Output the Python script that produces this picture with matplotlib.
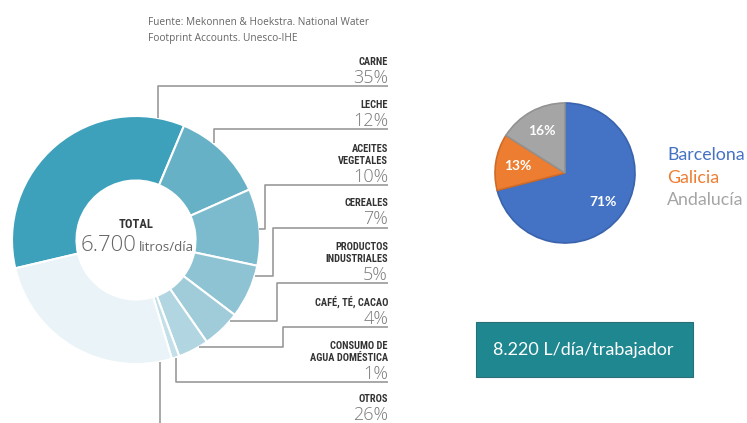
import numpy as np
import matplotlib
matplotlib.use('Agg')
import matplotlib.pyplot as plt
from matplotlib.patches import Rectangle

# Huella hídrica por categoría (%)
categorias = ['CARNE', 'LECHE', 'ACEITES\nVEGETALES', 'CEREALES',
              'PRODUCTOS\nINDUSTRIALES', 'CAFÉ, TÉ, CACAO',
              'CONSUMO DE\nAGUA DOMÉSTICA', 'OTROS']
porcentajes = [35, 12, 10, 7, 5, 4, 1, 26]
colores_donut = ['#3da1bc', '#67b1c7', '#7cbacd', '#8ec3d4', '#a0ccda',
                 '#b2d6e1', '#c3dfe8', '#eaf3f7']
total_texto = '6.700'
fuente = ['Fuente: Mekonnen & Hoekstra. National Water',
          'Footprint Accounts. Unesco-IHE']

# Reparto por región (%)
regiones = ['Barcelona', 'Galicia', 'Andalucía']
reparto = [71, 13, 16]
colores_pie = ['#4472c4', '#ed7d31', '#a5a5a5']
bordes_pie = ['#3a63ad', '#d06a27', '#929292']

caja_texto = '8.220 L/día/trabajador'

W, H = 747, 423
fig = plt.figure(figsize=(W / 100, H / 100), dpi=100)
ax = fig.add_axes([0, 0, 1, 1])


def Y(y):
    # coordenadas de píxel (y hacia abajo) -> eje (y hacia arriba)
    return H - y


# --- Donut ---
cx, cy, R = 136, Y(240), 124
wedges, _ = ax.pie(porcentajes, colors=colores_donut, startangle=193.2,
                   counterclock=False, center=(cx, cy), radius=R, frame=True,
                   wedgeprops=dict(width=R * 0.52, edgecolor='white', linewidth=1.5))

ax.text(cx, Y(224), 'TOTAL', ha='center', va='center', fontsize=9,
        fontweight='bold', color='#333333', family=['Roboto Condensed', 'Liberation Sans Narrow', 'Roboto'])
ax.text(cx + 1, Y(251), total_texto, ha='right', va='baseline', fontsize=16,
        fontweight='light', color='#666666', family=['Open Sans', 'DejaVu Sans'])
ax.text(cx + 3, Y(251), 'litros/día', ha='left', va='baseline', fontsize=9.5,
        color='#666666', family=['Liberation Sans Narrow', 'Open Sans'])

# guías: posición dentro del segmento, x vertical, y horizontal, base del %
frac_ancla = [0.90, 0.37, 0.52, 0.20, 0.20, 0.28, 0.50, 0.06]
x_vert = [None, None, 265, 273, 277, 283, None, None]
y_horiz = [86, 129, 185, 228, 283, 327, 382, 440]
base_pct = [83, 126, 182, 224, 280, 324, 379, 420]
x_der = 388
gris = '#9a9a9a'

for w, f, xv, yh, yb, cat, p in zip(wedges, frac_ancla, x_vert, y_horiz,
                                    base_pct, categorias, porcentajes):
    a = np.radians(w.theta2 - f * (w.theta2 - w.theta1))
    ex, ey = cx + R * np.cos(a), cy + R * np.sin(a)
    if xv is None:
        xs = [ex, ex, x_der]
        ys = [ey, Y(yh), Y(yh)]
    else:
        xs = [ex, xv, xv, x_der]
        ys = [ey, ey, Y(yh), Y(yh)]
    ax.plot(xs, ys, color=gris, lw=1.2, solid_capstyle='butt', clip_on=True)
    ax.text(x_der, Y(yb), f'{p}%', ha='right', va='baseline', fontsize=13,
            fontweight='light', color='#7a7a7a', family=['Open Sans', 'DejaVu Sans'])
    ax.text(x_der, Y(yb - 18), cat, ha='right', va='baseline', fontsize=7.5,
            fontweight='bold', color='#333333', linespacing=1.3,
            family=['Roboto Condensed', 'Liberation Sans Narrow', 'Roboto'])

for i, linea in enumerate(fuente):
    ax.text(148, Y(25 + 16 * i), linea, ha='left', va='baseline', fontsize=7.3,
            color='#666666', family=['Open Sans', 'DejaVu Sans'])

# --- Pie regiones ---
pw, ptxt, patx = ax.pie(reparto, colors=colores_pie, startangle=90, counterclock=False,
                        center=(565, Y(173)), radius=70, frame=True,
                        autopct='%.0f%%', pctdistance=0.68,
                        textprops=dict(color='white', fontsize=10, fontweight='bold',
                                       family=['Lato', 'DejaVu Sans']),
                        wedgeprops=dict(linewidth=1.2))
for w, b in zip(pw, bordes_pie):
    w.set_edgecolor(b)

for i, (reg, col) in enumerate(zip(regiones, colores_pie)):
    ax.text(667, Y(155 + 22.5 * i), reg, ha='left', va='center', fontsize=12.8,
            color=col, family=['Lato', 'DejaVu Sans'])

# --- Caja ---
ax.add_patch(Rectangle((476, Y(377)), 217, 55, facecolor='#1f8790',
                       edgecolor='#2a6f78', lw=0.8))
ax.text(583, Y(349.5), caja_texto, ha='center', va='center', fontsize=13,
        color='white', family=['Lato', 'DejaVu Sans'])

ax.set_xlim(0, W)
ax.set_ylim(0, H)
ax.set_aspect('auto')
ax.axis('off')

fig.savefig('out.png', dpi=100)
